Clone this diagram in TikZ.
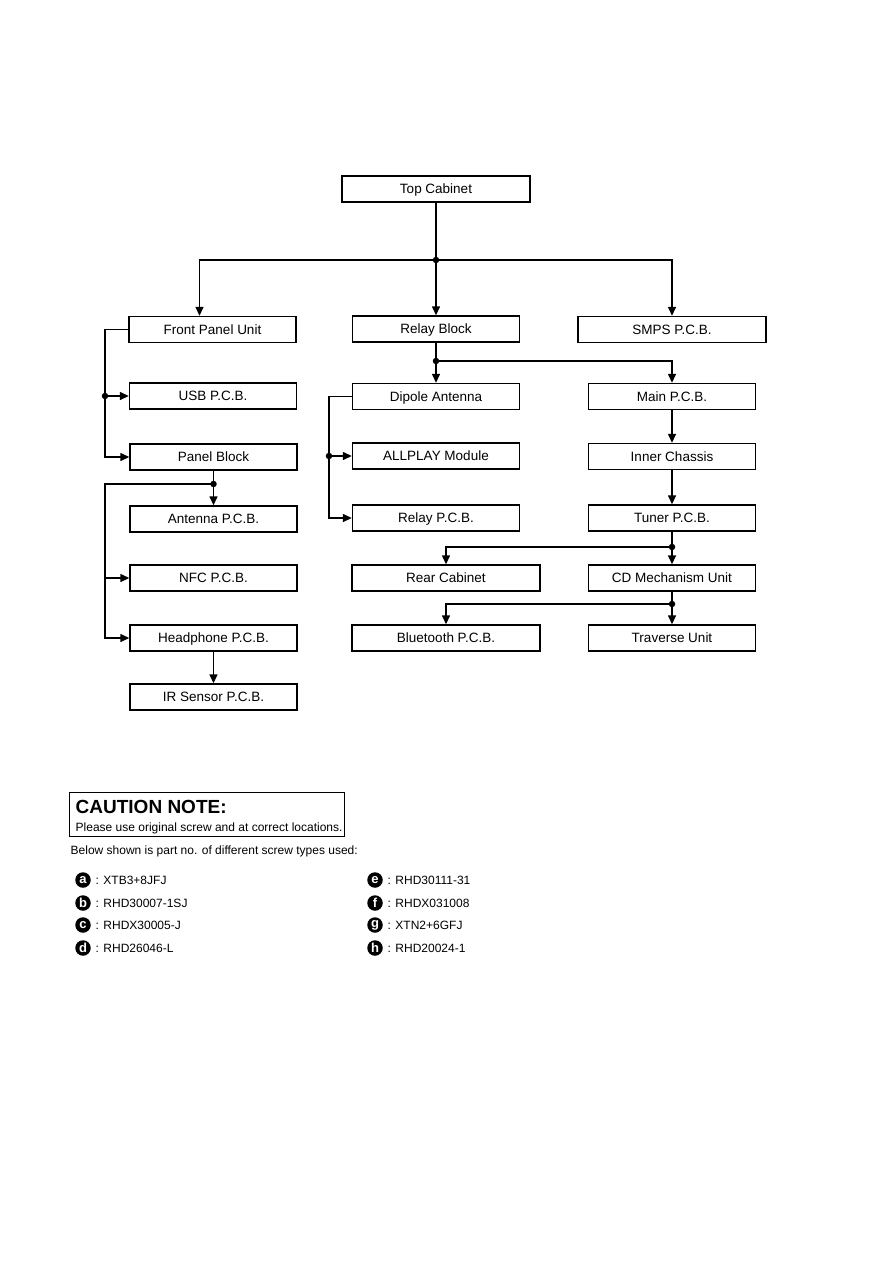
\documentclass[tikz,border=0pt]{standalone}
\usepackage{fontspec}
\setmainfont{Liberation Sans}
\usetikzlibrary{arrows.meta,positioning}
\tikzset{
  >={Triangle[length=9pt,width=8pt]},
  box/.style={draw, line width=1.4pt, minimum width=167pt, minimum height=26pt, inner sep=0pt,
    text height=9.6pt, text depth=0pt, font=\fontsize{13.5}{15}\selectfont},
  widebox/.style={box, minimum width=188pt},
  dot/.style={circle, fill, inner sep=0pt, minimum size=6.5pt},
  badge/.style={circle, fill, text=white, inner sep=0pt, minimum size=15.5pt, font=\fontsize{13}{13}\selectfont\bfseries},
  note/.style={anchor=base west, inner sep=0pt, font=\fontsize{12}{14}\selectfont},
}

\begin{document}
\begin{tikzpicture}[x=1pt, y=-1pt, line width=1.4pt]
    \useasboundingbox (0,0) rectangle (893,1263);
    % Blocos
    \node[widebox] (topcab)    at (436,189)   {Top Cabinet};
    \node[box]     (front)     at (212.5,329.5) {Front Panel Unit};
    \node[box]     (relay)     at (436,329)   {Relay Block};
    \node[widebox] (smps)      at (672,329.5) {SMPS P.C.B.};
    \node[box]     (usb)       at (213,396)   {USB P.C.B.};
    \node[box]     (dipole)    at (436,396.5) {Dipole Antenna};
    \node[box]     (mainpcb)   at (672,396.5) {Main P.C.B.};
    \node[box]     (panel)     at (213.5,457) {Panel Block};
    \node[box]     (allplay)   at (436,456)   {ALLPLAY Module};
    \node[box]     (inner)     at (672,456.5) {Inner Chassis};
    \node[box]     (antenna)   at (213.5,519) {Antenna P.C.B.};
    \node[box]     (relaypcb)  at (436,518)   {Relay P.C.B.};
    \node[box]     (tuner)     at (672,518)   {Tuner P.C.B.};
    \node[box]     (nfc)       at (213.5,578) {NFC P.C.B.};
    \node[widebox] (rear)      at (446,578)   {Rear Cabinet};
    \node[box]     (cdmech)    at (672,578)   {CD Mechanism Unit};
    \node[box]     (headph)    at (213.5,638) {Headphone P.C.B.};
    \node[widebox] (bluetooth) at (446,638)   {Bluetooth P.C.B.};
    \node[box]     (traverse)  at (672,638)   {Traverse Unit};
    \node[box]     (irsensor)  at (213.5,697) {IR Sensor P.C.B.};
    % Ligacoes
    \coordinate (jtop) at (436,260);
    \draw (topcab) -- (jtop);
    \draw[->] (jtop) -| ([xshift=-13pt]front.north);
    \draw[->] (jtop) -- (relay);
    \draw[->] (jtop) -| (smps.north);
    \node[dot] at (jtop) {};
    \coordinate (lbus) at (105,329.5);
    \draw[->] (front.west) -- (lbus) |- (panel.west);
    \draw[->] (lbus |- usb.west) -- (usb.west);
    \node[dot] at (lbus |- usb.west) {};
    \coordinate (jrel) at (436,361);
    \draw (relay) -- (jrel);
    \draw[->] (jrel) -- (dipole);
    \draw[->] (jrel) -| (mainpcb.north);
    \node[dot] at (jrel) {};
    \coordinate (dbus) at (329,396.5);
    \draw[->] (dipole.west) -- (dbus) |- (relaypcb.west);
    \draw[->] (dbus |- allplay.west) -- (allplay.west);
    \node[dot] at (dbus |- allplay.west) {};
    \draw[->] (mainpcb) -- (inner);
    \draw[->] (inner) -- (tuner);
    \coordinate (jtun) at (672,547);
    \draw (tuner) -- (jtun);
    \draw[->] (jtun) -- (cdmech);
    \draw[->] (jtun) -| (rear.north);
    \node[dot] at (jtun) {};
    \coordinate (jcd) at (672,604);
    \draw (cdmech) -- (jcd);
    \draw[->] (jcd) -- (traverse);
    \draw[->] (jcd) -| (bluetooth.north);
    \node[dot] at (jcd) {};
    \coordinate (jpan) at (213.5,484);
    \coordinate (pbus) at (105,484);
    \draw (panel) -- (jpan);
    \draw[->] (jpan) -- (antenna);
    \draw[->] (jpan) -- (pbus) |- (headph.west);
    \draw[->] (pbus |- nfc.west) -- (nfc.west);
    \node[dot] at (jpan) {};
    \draw[->] (headph) -- (irsensor);
    % Nota
    \node[draw, line width=1.4pt, minimum width=275pt, minimum height=44pt, inner sep=0pt, anchor=north west] (caution) at (69,792) {};
    \node[anchor=base west, inner sep=0pt, font=\fontsize{19}{20}\selectfont\bfseries] (cautitle) at (75,813) {CAUTION NOTE:};
    \node[note] (cautext) at (75,831) {Please use original screw and at correct locations.};
    \node[note] (below) at (70,854) {Below shown is part no. of different screw types used:};
    % Parafusos
    \node[badge] (sa) at (83,880) {a};
    \node[badge] (sb) at (83,903) {b};
    \node[badge] (sc) at (83,925) {c};
    \node[badge] (sd) at (83,948) {d};
    \node[badge] (se) at (375,880) {e};
    \node[badge] (sf) at (375,903) {f};
    \node[badge] (sg) at (375,925) {g};
    \node[badge] (sh) at (375,948) {h};
    \node[note] (la) at (95,884)  {: XTB3+8JFJ};
    \node[note] (lb) at (95,907)  {: RHD30007-1SJ};
    \node[note] (lc) at (95,929)  {: RHDX30005-J};
    \node[note] (ld) at (95,952)  {: RHD26046-L};
    \node[note] (le) at (387,884) {: RHD30111-31};
    \node[note] (lf) at (387,907) {: RHDX031008};
    \node[note] (lg) at (387,929) {: XTN2+6GFJ};
    \node[note] (lh) at (387,952) {: RHD20024-1};
\end{tikzpicture}
\end{document}
